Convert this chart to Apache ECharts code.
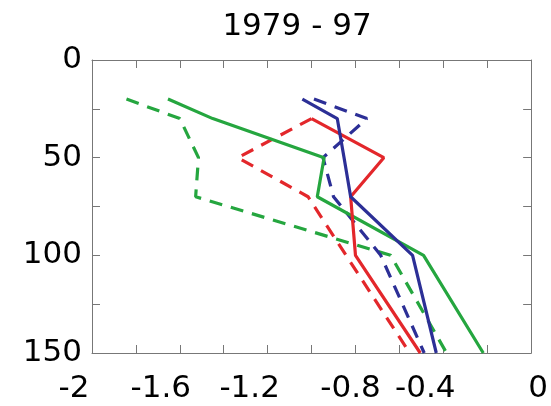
<!DOCTYPE html>
<html>
<head>
<meta charset="utf-8">
<script src="https://cdn.jsdelivr.net/npm/echarts@6/dist/echarts.min.js"></script>
<style>html,body{margin:0;padding:0;background:#fff;}#c{width:551px;height:406px;}</style>
</head>
<body>
<div id="c"></div>
<script>
// Data
var titleText = '1979 - 97';
var levels = [20, 30, 50, 70, 100, 150];
var greenSolid  = [-1.654, -1.45, -0.943, -0.974, -0.49, -0.218];
var greenDashed = [-1.843, -1.6, -1.515, -1.528, -0.64, -0.385];
var redSolid    = [null, -1.0, -0.671, -0.822, -0.80, -0.505];
var redDashed   = [null, -1.0, -1.336, -1.016, -0.843, -0.553];
var blueSolid   = [-1.042, -0.883, -0.852, -0.822, -0.54, -0.432];
var blueDashed  = [-0.989, -0.748, -0.948, -0.9, -0.685, -0.487];
var xTickValues = [-2, -1.6, -1.2, -0.8, -0.4, 0];
var xTickLabels = ['-2', '-1.6', '-1.2', '-0.8', '-0.4', '0'];
var yTickValues = [0, 50, 100, 150];
var yTickLabels = ['0', '50', '100', '150'];

// Styles
var labelShift = [-18, -19, -18, -5, -18, 7];
var FONT = 'DejaVu Sans';
var GREEN = '#25a63f', RED = '#e3272b', BLUE = '#2c2f96';
var DASH = [13, 9];

function pairs(xs) {
  var out = [];
  for (var i = 0; i < levels.length; i++) {
    if (xs[i] !== null) out.push([xs[i], levels[i]]);
  }
  return out;
}
function findIdx(arr, v) {
  for (var i = 0; i < arr.length; i++) if (Math.abs(arr[i] - v) < 1e-6) return i;
  return -1;
}
var rich = {};
labelShift.forEach(function (d, i) {
  rich['s' + i] = {
    fontFamily: FONT, fontSize: 31, color: '#000',
    padding: d < 0 ? [0, -2 * d, 0, 0] : [0, 0, 0, 2 * d]
  };
});
function mkSeries(xs, color, dashed) {
  return {
    type: 'line', data: pairs(xs), symbol: 'none', animation: false,
    lineStyle: { color: color, width: 3.2, type: dashed ? DASH : 'solid' },
    xAxisIndex: 0, yAxisIndex: 0
  };
}
var axisLine = { show: true, onZero: false, lineStyle: { color: '#777', width: 1 } };
var axisTick = { show: true, inside: true, length: 8, lineStyle: { color: '#777', width: 1 } };

var chart = echarts.init(document.getElementById('c'), null, { renderer: 'canvas' });
chart.setOption({
  animation: false,
  backgroundColor: '#fff',
  title: {
    text: titleText, left: 297, top: 11, textAlign: 'center', padding: 0,
    textStyle: { fontFamily: FONT, fontSize: 31, fontWeight: 'normal', color: '#000' }
  },
  grid: { left: 92, right: 18, top: 60, bottom: 53 },
  xAxis: [{
    type: 'value', min: -2, max: 0, interval: 0.2, position: 'bottom',
    axisLine: axisLine, axisTick: axisTick, splitLine: { show: false },
    axisLabel: {
      margin: 20, showMinLabel: true, showMaxLabel: true,
      formatter: function (v) {
        var i = findIdx(xTickValues, v);
        if (i < 0) return '';
        return '{s' + i + '|' + xTickLabels[i] + '}';
      },
      rich: rich
    }
  }, {
    type: 'value', min: -2, max: 0, interval: 0.2, position: 'top',
    axisLine: axisLine, axisTick: axisTick, axisLabel: { show: false }, splitLine: { show: false }
  }],
  yAxis: [{
    type: 'value', min: 0, max: 150, interval: 25, inverse: true, position: 'left',
    axisLine: axisLine, axisTick: axisTick, splitLine: { show: false },
    axisLabel: {
      margin: 10, fontFamily: FONT, fontSize: 31, color: '#000', padding: [4, 0, 0, 0],
      formatter: function (v) {
        var i = findIdx(yTickValues, v);
        return i < 0 ? '' : yTickLabels[i];
      }
    }
  }, {
    type: 'value', min: 0, max: 150, interval: 25, inverse: true, position: 'right',
    axisLine: axisLine, axisTick: axisTick, axisLabel: { show: false }, splitLine: { show: false }
  }],
  series: [
    mkSeries(greenDashed, GREEN, true),
    mkSeries(redDashed, RED, true),
    mkSeries(blueDashed, BLUE, true),
    mkSeries(greenSolid, GREEN, false),
    mkSeries(redSolid, RED, false),
    mkSeries(blueSolid, BLUE, false)
  ]
});
</script>
</body>
</html>
